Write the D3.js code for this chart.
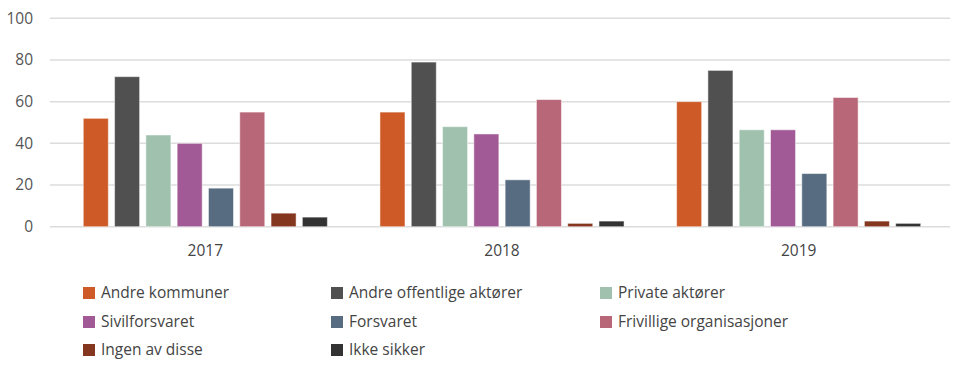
<!DOCTYPE html>
<html>
<head>
<meta charset="utf-8">
<script src="https://cdn.jsdelivr.net/npm/d3@7"></script>
<style>
  body { margin: 0; background: #fff; }
  svg text { font-family: "Open Sans", Lato, sans-serif; }
</style>
</head>
<body>
<div id="chart"></div>
<script>
const years = ["2017", "2018", "2019"];
const series = ["Andre kommuner", "Andre offentlige aktører", "Private aktører",
  "Sivilforsvaret", "Forsvaret", "Frivillige organisasjoner", "Ingen av disse", "Ikke sikker"];
const colors = ["#cd5a27", "#505050", "#a0c1ad", "#a15a96", "#576b81", "#b86779", "#84361e", "#333333"];
// one array per series, values for 2017, 2018, 2019
const andreKommuner = [52, 55, 60];
const andreOffentlige = [72, 79, 75];
const privateAktorer = [44, 48, 46.5];
const sivilforsvaret = [40, 44.5, 46.5];
const forsvaret = [18.5, 22.5, 25.5];
const frivillige = [55, 61, 62];
const ingenAvDisse = [6.5, 1.6, 2.7];
const ikkeSikker = [4.6, 2.7, 1.6];
const yTicks = [0, 20, 40, 60, 80, 100];

const values = [andreKommuner, andreOffentlige, privateAktorer, sivilforsvaret,
  forsvaret, frivillige, ingenAvDisse, ikkeSikker];

const width = 954, height = 371;

const svg = d3.select("#chart").append("svg")
    .attr("width", width)
    .attr("height", height);

const x = d3.scaleBand().domain(years).range([57, 947]);
const xInner = d3.scaleBand().domain(series).range([0, x.bandwidth()])
    .paddingInner(0.2).paddingOuter(0.84);
const y = d3.scaleLinear().domain([0, 100]).range([226.7, 18.3]);

// grid lines
svg.append("g")
    .selectAll("line")
    .data(yTicks)
    .join("line")
    .attr("x1", 50)
    .attr("x2", 950)
    .attr("y1", d => y(d))
    .attr("y2", d => y(d))
    .attr("stroke", "#dcdcdc")
    .attr("stroke-width", 1.5);

// y axis labels
svg.append("g")
    .selectAll("text")
    .data(yTicks)
    .join("text")
    .attr("x", 33)
    .attr("y", d => y(d))
    .attr("dy", "0.35em")
    .attr("text-anchor", "end")
    .attr("font-size", 15.5)
    .attr("fill", "#555")
    .text(d => d);

// bars
const groups = svg.append("g")
    .selectAll("g")
    .data(years)
    .join("g")
    .attr("transform", d => `translate(${x(d)},0)`);

groups.selectAll("rect")
    .data((yr, yi) => series.map((s, si) => ({s, si, v: values[si][yi]})))
    .join("rect")
    .attr("x", d => xInner(d.s))
    .attr("width", xInner.bandwidth())
    .attr("y", d => y(d.v))
    .attr("height", d => y(0) - y(d.v))
    .attr("fill", d => colors[d.si])
    .attr("stroke", "#fff")
    .attr("stroke-opacity", 0.5)
    .attr("stroke-width", 1);

// x labels
svg.append("g")
    .selectAll("text")
    .data(years)
    .join("text")
    .attr("x", d => x(d) + x.bandwidth() / 2)
    .attr("y", 256)
    .attr("text-anchor", "middle")
    .attr("font-size", 15.5)
    .attr("fill", "#444")
    .text(d => d);

// legend
const colX = [83, 331, 600];
const rowY = [293, 322, 350];
const legend = svg.append("g")
    .selectAll("g")
    .data(series)
    .join("g")
    .attr("transform", (d, i) => `translate(${colX[i % 3]},${rowY[Math.floor(i / 3)]})`);

legend.append("rect")
    .attr("x", 0)
    .attr("y", -6)
    .attr("width", 12)
    .attr("height", 12)
    .attr("fill", (d, i) => colors[i]);

legend.append("text")
    .attr("x", 18)
    .attr("y", 0)
    .attr("dy", "0.35em")
    .attr("font-size", 15.5)
    .attr("fill", "#444")
    .text(d => d);
</script>
</body>
</html>
